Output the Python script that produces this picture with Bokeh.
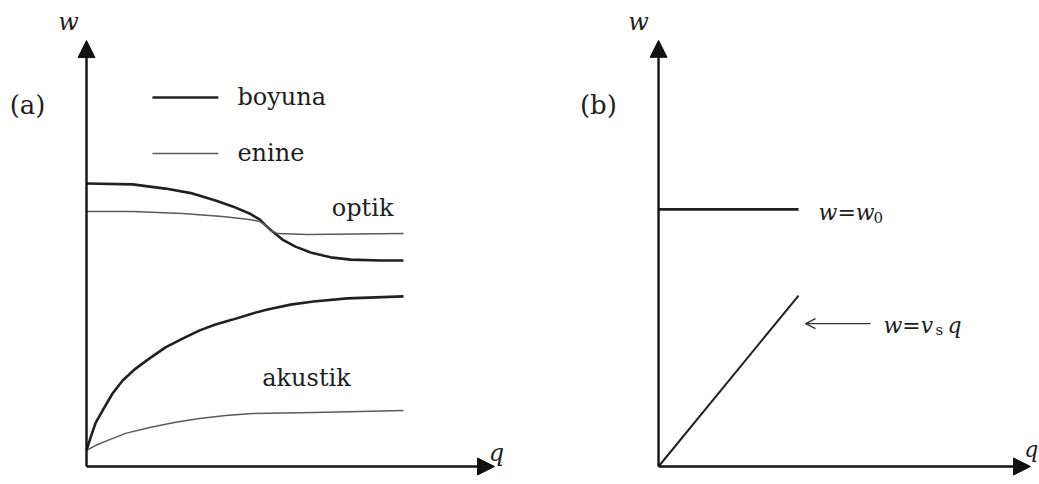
from bokeh.plotting import figure
from bokeh.layouts import row
from bokeh.models import Range1d, Arrow, NormalHead, OpenHead
from bokeh.core.properties import value
from bokeh.embed import file_html
from bokeh.resources import INLINE

# ---- panel (a): dispersion branches of a diatomic chain ----
# longitudinal (boyuna) optical branch
q_lo = [0.0, 0.145, 0.249, 0.334, 0.407, 0.461, 0.514, 0.546, 0.565, 0.587,
        0.618, 0.659, 0.707, 0.770, 0.833, 0.927, 1.0]
w_lo = [1.0, 0.997, 0.982, 0.965, 0.940, 0.919, 0.894, 0.873, 0.852, 0.830,
        0.802, 0.777, 0.756, 0.739, 0.731, 0.728, 0.728]
# transverse (enine) optical branch
q_to = [0.0, 0.145, 0.303, 0.429, 0.514, 0.546, 0.565, 0.580, 0.603, 0.697, 1.0]
w_to = [0.901, 0.901, 0.894, 0.883, 0.873, 0.866, 0.852, 0.834, 0.823, 0.820, 0.823]
# longitudinal acoustic branch
q_la = [0.0, 0.013, 0.028, 0.051, 0.082, 0.114, 0.155, 0.199, 0.249, 0.303,
        0.357, 0.407, 0.461, 0.524, 0.571, 0.644, 0.716, 0.823, 1.0]
w_la = [0.057, 0.103, 0.152, 0.198, 0.258, 0.304, 0.346, 0.382, 0.421, 0.452,
        0.481, 0.502, 0.519, 0.541, 0.555, 0.572, 0.583, 0.594, 0.601]
# transverse acoustic branch
q_ta = [0.0, 0.028, 0.073, 0.123, 0.199, 0.281, 0.357, 0.439, 0.524, 0.716, 0.864, 1.0]
w_ta = [0.057, 0.074, 0.095, 0.117, 0.138, 0.156, 0.170, 0.180, 0.187, 0.191, 0.194, 0.198]

legend_labels = ["boyuna", "enine"]
branch_labels = ["optik", "akustik"]

# ---- panel (b): limiting forms ----
q_lin = [0.0, 1.0]
w_opt = [1.0, 1.0]          # w = w0
w_ac = [0.0, 0.665]         # w = v_s q

SERIF = value("DejaVu Serif")
INK = "#1e1e1e"
THICK = dict(line_color="#202020", line_width=2.6, line_join="round")
THIN = dict(line_color="#5a5a5a", line_width=1.5, line_join="round")


def base_fig(width, xr, yr):
    p = figure(width=width, height=484, x_range=Range1d(*xr), y_range=Range1d(*yr),
               output_backend="svg", toolbar_location=None,
               x_axis_location=None, y_axis_location=None,
               min_border=0, outline_line_color=None,
               background_fill_color="white", border_fill_color="white")
    p.grid.visible = False
    return p


def axes(p, q_end, w_end):
    for xe, ye in [(q_end, 0.0), (0.0, w_end)]:
        p.add_layout(Arrow(x_start=0.0, y_start=0.0, x_end=xe, y_end=ye,
                           line_color="#111111", line_width=2.4,
                           end=NormalHead(size=17, fill_color="#111111",
                                          line_color="#111111", line_width=1)))


def label(p, x, y, txt, size="24px", style="normal", align="left", color=INK, **kw):
    p.text(x=[x], y=[y], text=[txt], text_font=SERIF, text_font_size=size,
           text_font_style=style, text_align=align, text_baseline="middle",
           text_color=color, **kw)


# panel (a)
pa = base_fig(520, (-0.2713, 1.369), (-0.0636, 1.6466))
axes(pa, 1.287, 1.505)
pa.line(q_lo, w_lo, **THICK)
pa.line(q_to, w_to, **THIN)
pa.line(q_la, w_la, **THICK)
pa.line(q_ta, w_ta, **THIN)

# legend samples
pa.line([0.208, 0.416], [1.304, 1.304], **THICK)
pa.line([0.208, 0.416], [1.106, 1.106], **THIN)
label(pa, 0.476, 1.304, legend_labels[0])
label(pa, 0.476, 1.106, legend_labels[1])

label(pa, 0.871, 0.915, branch_labels[0], align="center")
label(pa, 0.694, 0.311, branch_labels[1], align="center")
label(pa, -0.186, 1.276, "(a)", size="26px", align="center")
label(pa, -0.057, 1.569, "w", style="italic", align="center")
label(pa, 1.293, 0.049, "q", style="italic", align="center")

# panel (b)
pb = base_fig(519, (-0.986, 2.721), (-0.070, 1.813))
axes(pb, 2.657, 1.658)
pb.line(q_lin, w_opt, line_color="#202020", line_width=2.8)
pb.line(q_lin, w_ac, line_color="#202020", line_width=2.0)
pb.add_layout(Arrow(x_start=1.514, y_start=0.556, x_end=1.05, y_end=0.556,
                    line_color="#333333", line_width=1.4,
                    end=OpenHead(size=10, line_color="#333333", line_width=1.4)))

label(pb, 1.143, 0.988, "w=w", style="italic", size="22px")
label(pb, 1.143, 0.988, "0", size="15px", x_offset=55, y_offset=5)
label(pb, 1.607, 0.549, "w=v", style="italic", size="22px")
label(pb, 1.607, 0.549, "s", size="15px", x_offset=52, y_offset=5)
label(pb, 1.607, 0.549, "q", style="italic", size="22px", x_offset=64)
label(pb, -0.43, 1.405, "(b)", size="26px", align="center")
label(pb, -0.143, 1.73, "w", style="italic", align="center")
label(pb, 2.662, 0.066, "q", style="italic", size="22px", align="center")

layout = row(pa, pb)
open("out.html", "w").write(file_html(layout, INLINE))
